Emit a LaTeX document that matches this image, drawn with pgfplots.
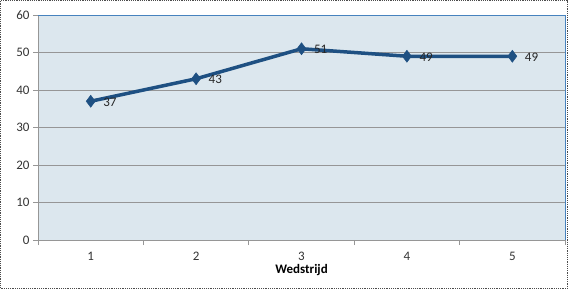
\documentclass[border=0pt]{standalone}
\usepackage{pgfplots}
\pgfplotsset{compat=1.18}
\usepackage{fontspec}
\setmainfont{Carlito}
\definecolor{linec}{RGB}{30,80,130}
\definecolor{bgc}{RGB}{220,231,238}
\definecolor{gridc}{RGB}{150,150,150}
\definecolor{topc}{RGB}{70,130,190}
\begin{document}
\begin{tikzpicture}
\begin{axis}[
  scale only axis, width=527pt, height=225pt,
  xmin=0.5, xmax=5.5, ymin=0, ymax=60,
  xtick={1,2,3,4,5},
  minor xtick={0.5,1.5,2.5,3.5,4.5,5.5},
  ytick={0,10,20,30,40,50,60},
  axis background/.style={fill=bgc},
  ymajorgrids, grid style={gridc, line width=0.8pt},
  major x tick style={draw=none},
  minor x tick style={gridc, line width=0.8pt},
  ytick style={gridc, line width=0.8pt},
  tick align=outside, major tick length=5pt, minor tick length=5pt,
  axis x line*=bottom, axis y line*=left,
  axis line style={gridc, line width=0.8pt, -},
  ticklabel style={font=\fontsize{13}{15}\selectfont, text=black!80},
  xticklabel style={yshift=-4pt},
  /pgf/number format/assume math mode=true,
  xlabel={\textbf{Wedstrijd}},
  xlabel style={font=\fontsize{13}{15}\selectfont, yshift=4pt},
  clip=false,
]
\draw[black!70, densely dotted, line width=1.2pt]
  (rel axis cs:-0.0710,-0.2151) rectangle (rel axis cs:1.0045,1.0640);
\draw[topc, line width=1pt] (rel axis cs:0,1) -- (rel axis cs:1,1) -- (rel axis cs:1,0);
\addplot[linec, line width=3.5pt, mark=diamond*, mark size=6pt,
  mark options={line width=0.5pt, fill=linec},
  nodes near coords, every node near coord/.append style={anchor=west, xshift=9pt, yshift=-1pt, text=black!85, font=\fontsize{13}{15}\selectfont}]
  coordinates {(1,37) (2,43) (3,51) (4,49) (5,49)};
\end{axis}
\end{tikzpicture}
\end{document}
